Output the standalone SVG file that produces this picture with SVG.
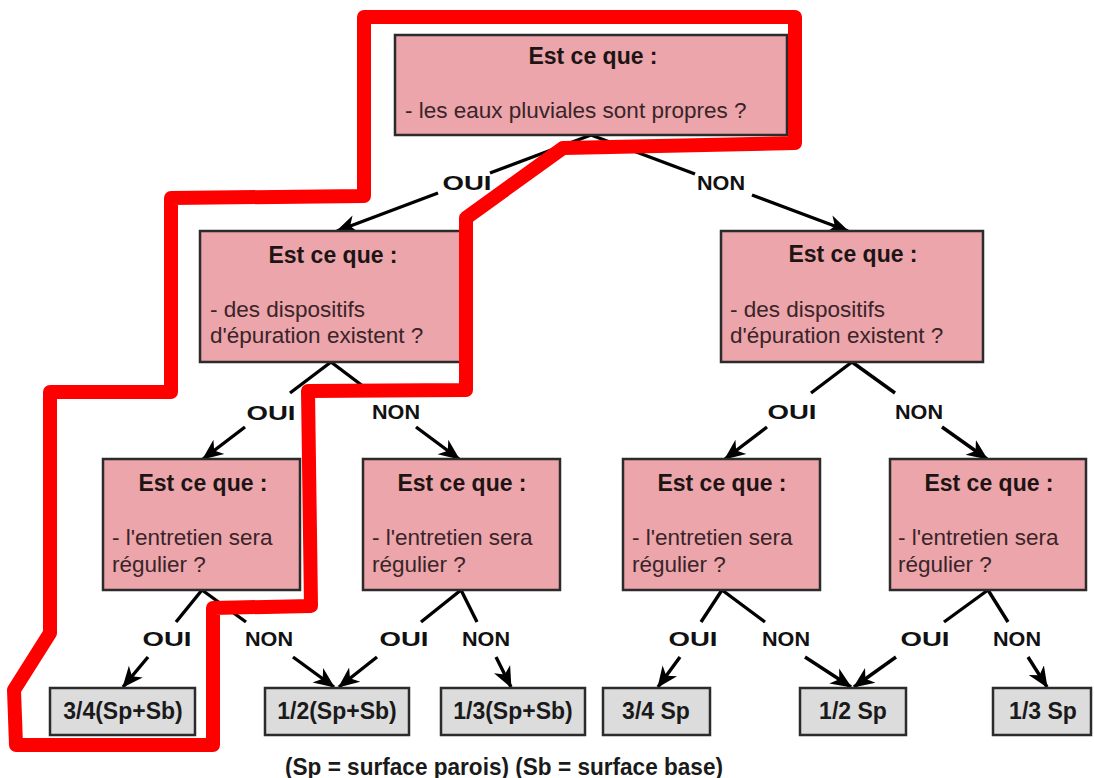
<svg xmlns="http://www.w3.org/2000/svg" width="1094" height="778" viewBox="0 0 1094 778">
<style>
.q{fill:#eba5ab;stroke:#2b2b2b;stroke-width:2.5}
.r{fill:#dcdcdc;stroke:#2b2b2b;stroke-width:2.5}
.h{font-family:"Liberation Sans",Arial,sans-serif;font-weight:bold;font-size:23px;fill:#1e1414;text-anchor:middle}
.t{font-family:"Liberation Sans",Arial,sans-serif;font-size:22.5px;fill:#3a2428}
.rt{font-family:"Liberation Sans",Arial,sans-serif;font-weight:bold;font-size:23px;fill:#1a1a1a;text-anchor:middle}
.lb{font-family:"Liberation Sans",Arial,sans-serif;font-weight:bold;font-size:21px;fill:#111;text-anchor:middle}
.c line{stroke:#000;stroke-width:3.4}
.a{marker-end:url(#ah)}
.hl{fill:none;stroke:#ff0000;stroke-width:14;stroke-linejoin:round;stroke-linecap:round}
</style>
<defs>
<marker id="ah" markerUnits="userSpaceOnUse" markerWidth="22" markerHeight="22" viewBox="0 0 22 22" refX="20" refY="11" orient="auto">
<path d="M0,2 L21,11 L0,20 L6,11 z" fill="#000"/>
</marker>
</defs>
<rect width="1094" height="778" fill="#fff"/>

<g id="connectors" class="c">
<line x1="591" y1="135" x2="490" y2="173"/>
<line class="a" x1="438" y1="193" x2="337" y2="231"/>
<line x1="591" y1="135" x2="695" y2="174"/>
<line class="a" x1="752" y1="195" x2="848" y2="231"/>

<line x1="331" y1="362" x2="290" y2="393"/>
<line class="a" x1="245" y1="427" x2="203" y2="459"/>
<line x1="331" y1="362" x2="372" y2="393"/>
<line class="a" x1="416" y1="427" x2="459" y2="459"/>

<line x1="852" y1="362" x2="811" y2="393"/>
<line class="a" x1="767" y1="427" x2="725" y2="459"/>
<line x1="852" y1="362" x2="895" y2="393"/>
<line class="a" x1="942" y1="427" x2="987" y2="459"/>

<line x1="202" y1="590" x2="176" y2="622"/>
<line class="a" x1="148" y1="657" x2="123" y2="687"/>
<line x1="202" y1="590" x2="246" y2="622"/>
<line class="a" x1="293" y1="657" x2="334" y2="687"/>

<line x1="461" y1="590" x2="421" y2="622"/>
<line class="a" x1="377" y1="657" x2="339" y2="687"/>
<line x1="461" y1="590" x2="477" y2="622"/>
<line class="a" x1="496" y1="657" x2="511" y2="687"/>

<line x1="722" y1="590" x2="701" y2="622"/>
<line class="a" x1="680" y1="657" x2="658" y2="687"/>
<line x1="722" y1="590" x2="765" y2="622"/>
<line class="a" x1="805" y1="657" x2="851" y2="687"/>

<line x1="988" y1="590" x2="944" y2="622"/>
<line class="a" x1="896" y1="657" x2="854" y2="687"/>
<line x1="988" y1="590" x2="1008" y2="622"/>
<line class="a" x1="1028" y1="657" x2="1047" y2="687"/>
</g>

<g id="labels">
<text class="lb" x="467" y="190" textLength="49" lengthAdjust="spacingAndGlyphs">OUI</text>
<text class="lb" x="721" y="190" textLength="48" lengthAdjust="spacingAndGlyphs">NON</text>
<text class="lb" x="271" y="420" textLength="49" lengthAdjust="spacingAndGlyphs">OUI</text>
<text class="lb" x="396" y="419" textLength="48" lengthAdjust="spacingAndGlyphs">NON</text>
<text class="lb" x="792" y="419" textLength="49" lengthAdjust="spacingAndGlyphs">OUI</text>
<text class="lb" x="919" y="419" textLength="48" lengthAdjust="spacingAndGlyphs">NON</text>
<text class="lb" x="167" y="646" textLength="49" lengthAdjust="spacingAndGlyphs">OUI</text>
<text class="lb" x="269" y="646" textLength="48" lengthAdjust="spacingAndGlyphs">NON</text>
<text class="lb" x="404" y="646" textLength="49" lengthAdjust="spacingAndGlyphs">OUI</text>
<text class="lb" x="486" y="646" textLength="48" lengthAdjust="spacingAndGlyphs">NON</text>
<text class="lb" x="693" y="646" textLength="49" lengthAdjust="spacingAndGlyphs">OUI</text>
<text class="lb" x="786" y="646" textLength="48" lengthAdjust="spacingAndGlyphs">NON</text>
<text class="lb" x="925" y="646" textLength="49" lengthAdjust="spacingAndGlyphs">OUI</text>
<text class="lb" x="1017" y="646" textLength="48" lengthAdjust="spacingAndGlyphs">NON</text>
</g>

<g id="q-top">
<rect class="q" x="395" y="35" width="392" height="100"/>
<text class="h" x="593" y="64">Est ce que :</text>
<text class="t" x="405" y="118">- les eaux pluviales sont propres ?</text>
</g>
<g id="q-left">
<rect class="q" x="200" y="231" width="262" height="131"/>
<text class="h" x="333" y="263">Est ce que :</text>
<text class="t" x="210" y="317">- des dispositifs</text>
<text class="t" x="210" y="343">d'épuration existent ?</text>
</g>
<g id="q-right">
<rect class="q" x="721" y="231" width="262" height="131"/>
<text class="h" x="853" y="262">Est ce que :</text>
<text class="t" x="730" y="317">- des dispositifs</text>
<text class="t" x="730" y="343">d'épuration existent ?</text>
</g>
<g id="q-a">
<rect class="q" x="103" y="459" width="197" height="131"/>
<text class="h" x="203" y="491">Est ce que :</text>
<text class="t" x="112" y="545">- l'entretien sera</text>
<text class="t" x="112" y="572">régulier ?</text>
</g>
<g id="q-b">
<rect class="q" x="363" y="459" width="197" height="131"/>
<text class="h" x="462" y="491">Est ce que :</text>
<text class="t" x="372" y="545">- l'entretien sera</text>
<text class="t" x="372" y="572">régulier ?</text>
</g>
<g id="q-c">
<rect class="q" x="623" y="459" width="197" height="131"/>
<text class="h" x="722" y="491">Est ce que :</text>
<text class="t" x="632" y="545">- l'entretien sera</text>
<text class="t" x="632" y="572">régulier ?</text>
</g>
<g id="q-d">
<rect class="q" x="890" y="459" width="196" height="131"/>
<text class="h" x="989" y="491">Est ce que :</text>
<text class="t" x="898" y="545">- l'entretien sera</text>
<text class="t" x="898" y="572">régulier ?</text>
</g>

<g id="r1"><rect class="r" x="50" y="688" width="145" height="47"/><text class="rt" x="123" y="719">3/4(Sp+Sb)</text></g>
<g id="r2"><rect class="r" x="265" y="688" width="144" height="47"/><text class="rt" x="337" y="719">1/2(Sp+Sb)</text></g>
<g id="r3"><rect class="r" x="441" y="688" width="144" height="47"/><text class="rt" x="513" y="719">1/3(Sp+Sb)</text></g>
<g id="r4"><rect class="r" x="603" y="688" width="107" height="47"/><text class="rt" x="656" y="719">3/4 Sp</text></g>
<g id="r5"><rect class="r" x="800" y="688" width="106" height="47"/><text class="rt" x="853" y="719">1/2 Sp</text></g>
<g id="r6"><rect class="r" x="993" y="688" width="98" height="47"/><text class="rt" x="1043" y="719">1/3 Sp</text></g>

<text class="rt" x="504" y="775" style="font-size:24px" textLength="438" lengthAdjust="spacingAndGlyphs">(Sp = surface parois) (Sb = surface base)</text>

<path id="highlight" class="hl" d="M364,17 L795,17 L795,143 L563,148 L466,218 L466,390 L308,391 L311,606 L213,608 L213,745 L16,745 L14,690 L50,633 L50,392 L171,392 L171,198 L364,196 Z"/>
</svg>
